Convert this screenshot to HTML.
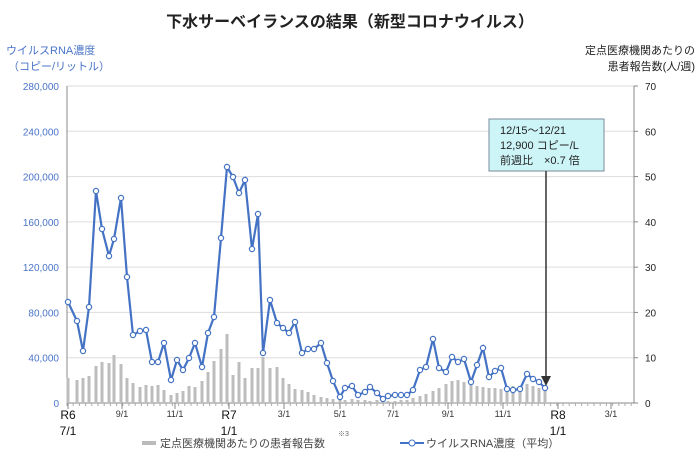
<!DOCTYPE html>
<html><head><meta charset="utf-8"><style>
body{margin:0;background:#fff;}
svg{display:block;font-family:"Liberation Sans","Noto Sans CJK JP",sans-serif;}
</style></head><body>
<svg id="s" width="700" height="459" viewBox="0 0 700 459" xmlns="http://www.w3.org/2000/svg">
<text x="350" y="27" text-anchor="middle" font-size="16" font-weight="bold" fill="#222">下水サーベイランスの結果（新型コロナウイルス）</text>
<text x="6" y="54" font-size="11" fill="#4a74c8">ウイルスRNA濃度</text>
<text x="8" y="70" font-size="11" fill="#4a74c8">（コピー/リットル）</text>
<text x="695" y="54" font-size="11" text-anchor="end" fill="#222">定点医療機関あたりの</text>
<text x="695" y="70" font-size="11" text-anchor="end" fill="#222">患者報告数(人/週)</text>
<g id="g"></g>
<rect x="489" y="119" width="115" height="52" fill="#cdf5f8" stroke="#7a8a9a" stroke-width="1"/>
<text x="500" y="134" font-size="11" fill="#222">12/15～12/21</text>
<text x="500" y="149" font-size="11" fill="#222">12,900 コピー/L</text>
<text x="500" y="164" font-size="11" fill="#222">前週比　×0.7 倍</text>
<line x1="546" y1="171" x2="546" y2="380" stroke="#333" stroke-width="1.5"/>
<polygon points="541,376 551,376 546,386" fill="#333"/>
<rect x="142" y="441" width="14" height="4" fill="#bbb"/>
<text x="160" y="447" font-size="11" fill="#444">定点医療機関あたりの患者報告数</text>
<text x="338" y="436" font-size="7" fill="#666">※3</text>
<line x1="400" y1="443" x2="424" y2="443" stroke="#4472c4" stroke-width="2"/>
<circle cx="412" cy="443" r="3" fill="#fff" stroke="#4472c4"/>
<text x="426" y="447" font-size="11" fill="#444">ウイルスRNA濃度（平均）</text>
</svg>
<script>
(function(){
var g=document.getElementById('g');var h='';
var yTop=86,yBot=403;
for(var i=0;i<=7;i++){var y=yBot-i*(yBot-yTop)/7;
 if(i>0)h+='<line x1="67" y1="'+y+'" x2="634" y2="'+y+'" stroke="#ddd"/>';
 var lab=String(i*40000).replace(/\B(?=(\d{3})+(?!\d))/g,',');
 h+='<text x="59" y="'+(y+4)+'" font-size="10" text-anchor="end" fill="#4a74c8">'+lab+'</text>';
 h+='<text x="645" y="'+(y+4)+'" font-size="10" fill="#222">'+(i*10)+'</text>';
 h+='<line x1="634" y1="'+y+'" x2="638" y2="'+y+'" stroke="#888"/>';}
h+='<line x1="67" y1="86" x2="67" y2="403" stroke="#888"/><line x1="634" y1="86" x2="634" y2="403" stroke="#888"/><line x1="67" y1="403" x2="634" y2="403" stroke="#888"/>';
var P=[[68,302],[77,321],[83,351],[89,307],[96,191],[102,229],[109,256],[114,239],[121,198],[127,277],[133,335],[140,331],[146,330],[152,362],[158,362],[164,343],[171,380],[177,360],[183,370],[189,358],[195,343],[202,367],[208,333],[214,317],[221,238],[227,167],[233,177],[239,193],[245,180],[252,249],[258,214],[263,353],[270,300],[277,323],[283,328],[289,333],[295,322],[302,353],[308,349],[314,349],[321,343],[327,363],[333,381],[340,397],[345,388],[352,386],[358,395],[365,392],[370,387],[377,393],[383,399],[388,396],[395,395],[401,395],[407,395],[413,390],[420,370],[426,367],[433,339],[439,368],[446,372],[452,357],[458,362],[464,359],[471,382],[477,365],[483,348],[489,377],[495,371],[501,368],[507,389],[513,390],[520,389],[527,374],[533,379],[539,382],[545,388]];
var B=[378,380,378,376,366,362,363,355,364,378,383,387,385,386,385,390,395,393,391,386,387,381,372,361,349,334,375,362,378,368,368,357,368,367,378,384,389,390,392,395,397,398,399,399,400,399,400,400,401,400,401,401,401,400,400,398,396,394,391,388,384,381,380,382,384,386,387,388,388,389,388,386,387,384,386,388,386];
for(var k=0;k<P.length;k++){var t=B[k]||400;h+='<rect x="'+(P[k][0]-1.5)+'" y="'+t+'" width="3" height="'+(yBot-t)+'" fill="#bdbdbd"/>';}
for(var x=67;x<634;x+=6.2)h+='<line x1="'+x+'" y1="403" x2="'+x+'" y2="406" stroke="#aaa"/>';
h+='<polyline points="'+P.map(function(p){return p.join(',');}).join(' ')+'" fill="none" stroke="#4472c4" stroke-width="2.2"/>';
for(var k=0;k<P.length;k++)h+='<circle cx="'+P[k][0]+'" cy="'+P[k][1]+'" r="2.6" fill="#fff" stroke="#4472c4" stroke-width="1.2"/>';
var L=[[68,'R6','7/1'],[122,'9/1'],[175,'11/1'],[229,'R7','1/1'],[284,'3/1'],[340,'5/1'],[393,'7/1'],[448,'9/1'],[503,'11/1'],[558,'R8','1/1'],[611,'3/1']];
for(var k=0;k<L.length;k++){var l=L[k];h+='<line x1="'+l[0]+'" y1="403" x2="'+l[0]+'" y2="409" stroke="#888"/>';
 if(l.length==3){h+='<text x="'+l[0]+'" y="419" font-size="12" text-anchor="middle" fill="#111">'+l[1]+'</text><text x="'+l[0]+'" y="435" font-size="12" text-anchor="middle" fill="#111">'+l[2]+'</text>';}
 else h+='<text x="'+l[0]+'" y="417" font-size="9" text-anchor="middle" fill="#333">'+l[1]+'</text>';}
g.innerHTML=h;
})();
</script>
</body></html>
